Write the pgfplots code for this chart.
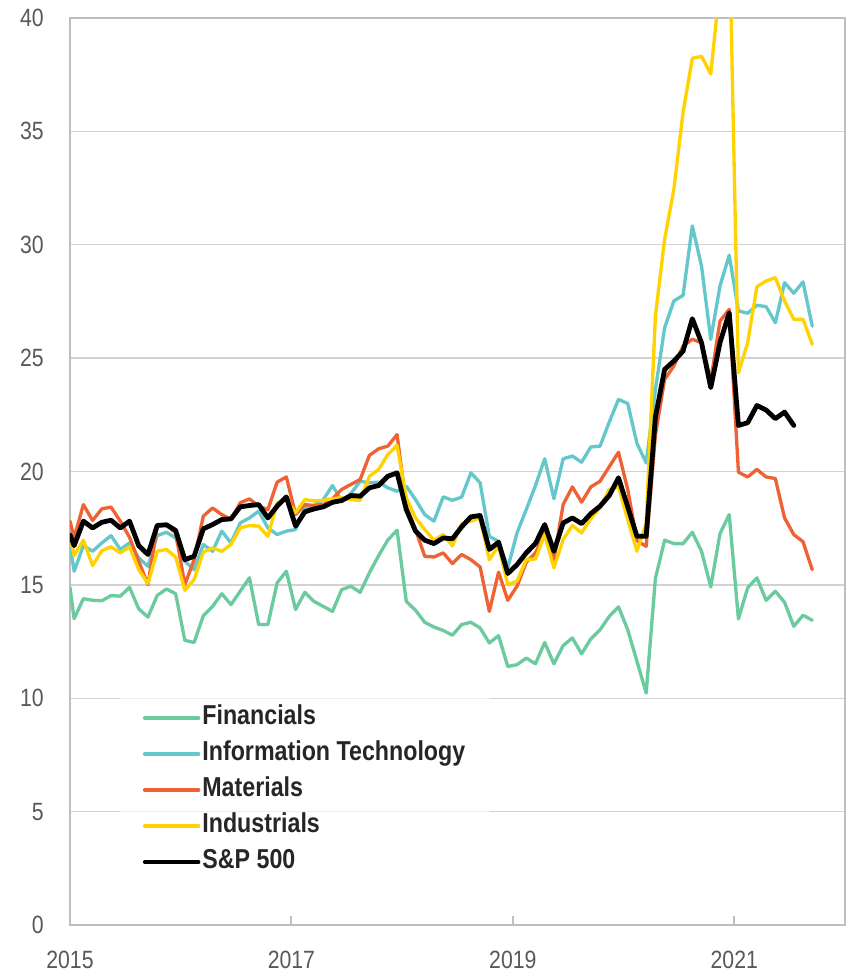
\documentclass[border=0pt]{standalone}
\usepackage{fontspec}
\setmainfont{Liberation Sans}[FakeStretch=0.85]
\usepackage{pgfplots}
\pgfplotsset{compat=1.18}
\usepackage{pgfplotstable}
\definecolor{cfin}{RGB}{108,203,158}
\definecolor{cit}{RGB}{99,199,204}
\definecolor{cmat}{RGB}{238,98,52}
\definecolor{cind}{RGB}{255,210,0}
\definecolor{gridc}{RGB}{210,210,210}
\definecolor{axisgray}{RGB}{191,191,191}
\definecolor{ticktext}{RGB}{89,89,89}
\definecolor{legtext}{RGB}{38,38,38}

\pgfplotstableread{
m fin it mat ind sp
-0.45 14.88 16.78 17.81 17.20 17.20
0 13.51 15.60 17.07 16.29 16.73
1 14.39 16.73 18.54 16.97 17.81
2 14.32 16.48 17.84 15.85 17.51
3 14.30 16.85 18.35 16.51 17.76
4 14.53 17.17 18.43 16.68 17.85
5 14.50 16.56 17.81 16.41 17.51
6 14.89 16.85 17.10 16.68 17.81
7 13.94 16.19 16.04 15.67 16.73
8 13.58 15.82 15.01 15.06 16.34
9 14.53 17.17 17.59 16.48 17.62
10 14.82 17.32 17.65 16.56 17.65
11 14.61 17.07 17.29 16.23 17.40
12 12.55 16.04 15.01 14.76 16.11
13 12.46 15.67 16.11 15.23 16.26
14 13.64 16.78 18.03 16.44 17.47
15 14.05 16.48 18.39 16.63 17.66
16 14.61 17.37 18.10 16.48 17.88
17 14.13 16.85 17.88 16.78 17.91
18 14.72 17.73 18.62 17.51 18.44
19 15.31 17.95 18.79 17.62 18.50
20 13.25 18.25 18.47 17.59 18.54
21 13.25 17.51 18.32 17.14 17.95
22 15.09 17.22 19.53 18.62 18.47
23 15.60 17.37 19.76 18.76 18.88
24 13.91 17.44 18.10 18.18 17.59
25 14.67 18.39 18.54 18.76 18.22
26 14.27 18.50 18.50 18.70 18.35
27 14.05 18.76 18.54 18.73 18.44
28 13.83 19.38 18.80 18.80 18.64
29 14.79 18.70 19.21 18.84 18.72
30 14.94 19.03 19.43 18.76 18.94
31 14.67 19.57 19.65 18.73 18.91
32 15.53 19.50 20.71 19.79 19.28
33 16.29 19.53 21.00 20.09 19.38
34 16.98 19.28 21.12 20.75 19.79
35 17.41 19.13 21.63 21.15 19.94
36 14.27 19.35 18.47 18.84 18.32
37 13.88 18.76 17.44 17.95 17.37
38 13.35 18.10 16.26 17.44 16.97
39 13.14 17.81 16.23 16.97 16.82
40 12.99 18.88 16.41 17.22 17.07
41 12.78 18.73 15.94 16.72 17.03
42 13.25 18.87 16.34 17.70 17.56
43 13.35 19.94 16.11 17.81 18.00
44 13.10 19.50 15.79 17.95 18.06
45 12.44 17.14 13.83 16.11 16.56
46 12.76 16.92 15.56 16.73 16.88
47 11.40 15.75 14.32 15.01 15.50
48 11.48 17.29 14.94 15.16 15.89
49 11.77 18.32 15.99 16.11 16.41
50 11.52 19.38 16.41 16.14 16.82
51 12.46 20.56 17.26 17.22 17.66
52 11.52 18.80 16.11 15.75 16.48
53 12.32 20.56 18.54 17.00 17.73
54 12.66 20.68 19.32 17.62 17.95
55 11.96 20.41 18.65 17.29 17.70
56 12.62 21.08 19.32 17.92 18.14
57 13.02 21.12 19.57 18.40 18.47
58 13.61 22.18 20.21 19.21 18.94
59 14.03 23.18 20.85 19.32 19.72
60 13.02 23.00 19.21 17.88 18.44
61 11.63 21.24 16.95 16.48 17.14
62 10.23 20.38 16.70 17.70 17.14
63 15.28 23.60 21.60 26.86 22.40
64 16.97 26.34 24.06 30.24 24.50
65 16.82 27.52 24.65 32.45 24.87
66 16.82 27.77 25.53 35.84 25.31
67 17.32 30.83 25.83 38.22 26.74
68 16.48 29.06 25.68 38.31 25.68
69 14.91 25.83 24.00 37.53 23.70
70 17.26 28.18 26.63 41.50 25.68
71 18.10 29.54 27.15 44.00 27.00
72 13.50 27.08 19.97 24.35 22.03
73 14.87 26.98 19.76 25.68 22.15
74 15.31 27.33 20.09 28.15 22.91
75 14.32 27.27 19.76 28.40 22.71
76 14.72 26.56 19.69 28.55 22.33
77 14.23 28.33 17.95 27.52 22.62
78 13.17 27.86 17.22 26.71 22.03
79 13.66 28.36 16.90 26.71 nan
80 13.44 26.41 15.67 25.61 nan
}\data

\begin{document}
\begin{tikzpicture}
\begin{axis}[
  scale only axis, width=581.25pt, height=680.25pt,
  xmin=0, xmax=84, ymin=0, ymax=40,
  xtick={0,24,48,72}, xticklabels={2015,2017,2019,2021},
  ytick={0,5,...,40},
  xtick pos=bottom, ytick pos=left,
  ymajorgrids, grid style={draw=gridc, line width=1.1pt},
  axis line style={draw=axisgray, line width=1.5pt},
  tick align=inside,
  x tick style={draw=axisgray, line width=1.5pt},
  major tick length=6.75pt,
  y tick style={draw=none},
  tick label style={font=\fontsize{18.75}{20}\selectfont, text=ticktext},
  /pgf/number format/assume math mode=true,
  yticklabel style={anchor=east, inner sep=0pt, xshift=-19.5pt},
  xticklabel style={anchor=north, inner sep=0pt, yshift=-19.5pt},
  legend cell align=left,
  legend style={at={(0.0645,0.2514)}, anchor=north west, draw=none,
    fill=white, fill opacity=0.6, text opacity=1,
    font=\fontsize{20.5}{24}\selectfont\bfseries, text=legtext,
    inner xsep=17pt, inner ysep=2pt, row sep=0pt,
    nodes={inner xsep=1.5pt, inner ysep=3.5pt, text height=15pt, text depth=5pt}},
  legend image code/.code={\draw[#1, line width=2.6pt] (0pt,0pt) -- (40.5pt,0pt);},
  every axis plot/.append style={line join=round, line cap=round},
]
\addplot[cfin, line width=2.5pt] table[x expr=\thisrow{m}+0.45, y=fin] {\data};
\addlegendentry{Financials}
\addplot[cit, line width=2.5pt] table[x expr=\thisrow{m}+0.45, y=it] {\data};
\addlegendentry{Information Technology}
\addplot[cmat, line width=2.5pt] table[x expr=\thisrow{m}+0.45, y=mat] {\data};
\addlegendentry{Materials}
\addplot[cind, line width=2.5pt] table[x expr=\thisrow{m}+0.45, y=ind] {\data};
\addlegendentry{Industrials}
\addplot[black, line width=3.6pt] table[x expr=\thisrow{m}+0.45, y=sp] {\data};
\addlegendentry{S\&P 500}
\coordinate (BL) at (rel axis cs:0,0);
\coordinate (TR) at (rel axis cs:1,1);
\end{axis}
\pgfresetboundingbox
\path[use as bounding box] ([xshift=-52.5pt, yshift=-38.25pt]BL) rectangle ([xshift=5.25pt, yshift=13.5pt]TR);
\end{tikzpicture}
\end{document}
